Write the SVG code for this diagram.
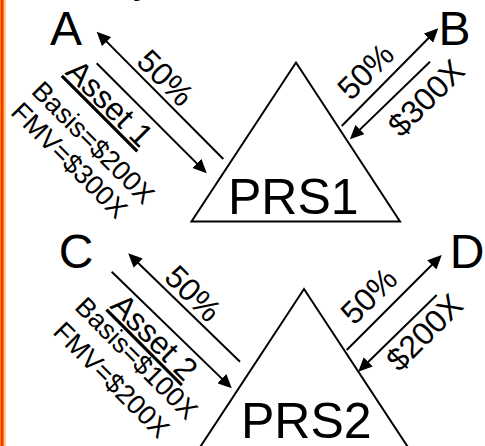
<svg xmlns="http://www.w3.org/2000/svg" width="485" height="446" viewBox="0 0 485 446">
  <style>
    text { font-family: "Liberation Sans", Arial, sans-serif; fill: #000; }
    .party { font-size: 48px; text-anchor: middle; }
    .prs { font-size: 50px; }
    .pct { font-size: 32px; text-anchor: middle; }
    .asset { font-size: 32px; text-anchor: middle; text-decoration: underline; }
    .val { font-size: 27px; text-anchor: middle; }
    .edge { stroke: #000; stroke-width: 2; fill: none; marker-end: url(#head); }
    .tri { stroke: #000; stroke-width: 2; fill: #fff; stroke-linejoin: miter; }
  </style>
  <defs>
    <marker id="head" markerUnits="userSpaceOnUse" markerWidth="14" markerHeight="13" refX="8" refY="6.5" orient="auto">
      <path d="M0,0 L14,6.5 L0,13 z" fill="#000"/>
    </marker>
  </defs>

  <rect x="0" y="0" width="485" height="446" fill="#fff"/>

  <!-- left edge band -->
  <g id="edge-band">
    <rect x="0" y="0" width="1" height="446" fill="#ff8c1a"/>
    <rect x="1" y="0" width="2" height="446" fill="#ff3300"/>
    <rect x="3" y="0" width="1.3" height="446" fill="#ff8000"/>
    <rect x="4.3" y="0" width="1.4" height="446" fill="#ffc080"/>
  </g>

  <!-- heading line above, mostly off the top edge -->
  <text x="133" y="-7" style="font-size:40px">y</text>

  <!-- partnerships -->
  <g id="prs1">
    <polygon class="tri" points="296,62.5 400,221.5 191.5,221.5"/>
    <text class="prs" x="228" y="213.5">PRS1</text>
  </g>
  <g id="prs2">
    <polygon class="tri" points="304,289 408.5,448 199.5,448"/>
    <text class="prs" x="241" y="438">PRS2</text>
  </g>

  <!-- partners -->
  <g id="partner-a"><text class="party" x="66" y="45">A</text></g>
  <g id="partner-b"><text class="party" x="454.5" y="45">B</text></g>
  <g id="partner-c"><text class="party" x="76" y="268">C</text></g>
  <g id="partner-d"><text class="party" x="467" y="268">D</text></g>

  <!-- connectors and their labels -->
  <g id="connectors">
    <g id="a-prs1">
      <line class="edge" x1="223.3" y1="159" x2="100.9" y2="35.9"/>
      <line class="edge" x1="96.7" y1="63.3" x2="202.5" y2="169.1"/>
      <text class="pct" transform="translate(157.7,85.6) rotate(45)">50%</text>
      <text class="asset" transform="translate(102.1,111) rotate(45)">Asset 1</text>
      <text class="val" transform="translate(86.8,149.1) rotate(45)">Basis=$200X</text>
      <text class="val" transform="translate(62.9,166.8) rotate(45)">FMV=$300X</text>
    </g>
    <g id="b-prs1">
      <line class="edge" x1="341.7" y1="126" x2="434.1" y2="32.5"/>
      <line class="edge" x1="430" y1="61.7" x2="354.2" y2="135.1"/>
      <text class="pct" transform="translate(373.4,79.2) rotate(-45)">50%</text>
      <text class="pct" transform="translate(433.9,105.7) rotate(-45)">$300X</text>
    </g>
    <g id="c-prs2">
      <line class="edge" x1="240" y1="361.7" x2="132.5" y2="257.5"/>
      <line class="edge" x1="111.7" y1="271.7" x2="227.5" y2="384.1"/>
      <text class="pct" transform="translate(185.3,301.3) rotate(45)">50%</text>
      <text class="asset" transform="translate(146.7,344.8) rotate(45)">Asset 2</text>
      <text class="val" transform="translate(130,364.8) rotate(45)">Basis=$100X</text>
      <text class="val" transform="translate(105,386.4) rotate(45)">FMV=$200X</text>
    </g>
    <g id="d-prs2">
      <line class="edge" x1="346.7" y1="350" x2="437.5" y2="259.2"/>
      <line class="edge" x1="436.7" y1="295" x2="362.5" y2="367.5"/>
      <text class="pct" transform="translate(376.6,303.7) rotate(-45)">50%</text>
      <text class="pct" transform="translate(432.1,340.2) rotate(-45)">$200X</text>
    </g>
  </g>
</svg>
